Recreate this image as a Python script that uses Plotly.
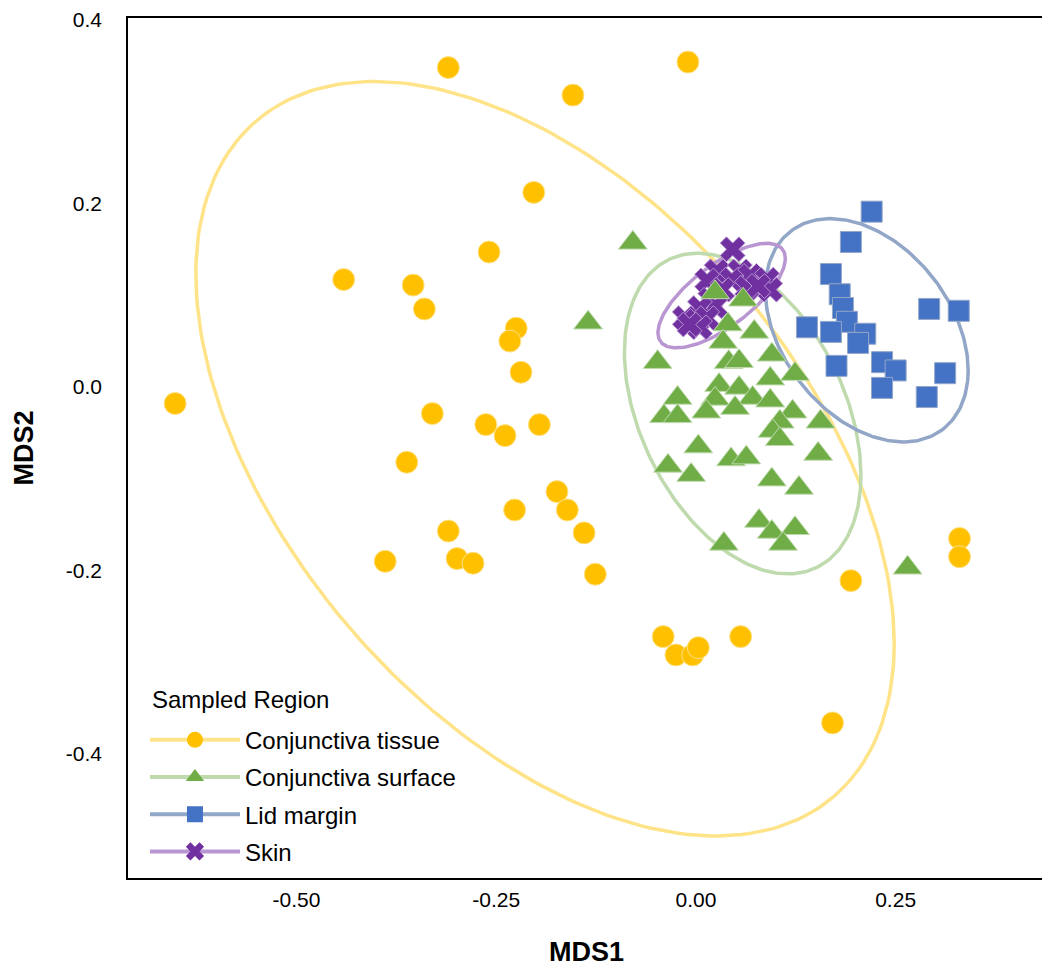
import numpy as np
import plotly.graph_objects as go

# MDS coordinates, one pair of lists per sampled region
tissue_x = [-0.652, -0.441, -0.354, -0.340, -0.310, -0.154, -0.010, -0.203, -0.259, -0.225,
            -0.233, -0.219, -0.330, -0.362, -0.263, -0.239, -0.196, -0.174, -0.161, -0.140,
            -0.126, -0.227, -0.310, -0.299, -0.279, -0.389, -0.041, -0.025, -0.004, 0.003,
            0.056, 0.194, 0.171, 0.330, 0.330]
tissue_y = [-0.018, 0.117, 0.111, 0.085, 0.348, 0.318, 0.354, 0.212, 0.147, 0.064,
            0.050, 0.016, -0.029, -0.082, -0.041, -0.053, -0.041, -0.114, -0.134, -0.159,
            -0.204, -0.134, -0.157, -0.187, -0.192, -0.190, -0.272, -0.292, -0.292, -0.284,
            -0.272, -0.211, -0.366, -0.165, -0.185]

surface_x = [-0.079, -0.135, 0.024, 0.059, 0.040, 0.073, 0.034, -0.048, 0.041, 0.054,
             0.095, 0.124, 0.093, 0.029, 0.054, 0.071, 0.093, 0.024, -0.023, -0.040,
             -0.023, 0.013, 0.049, 0.121, 0.105, 0.096, 0.105, 0.156, 0.003, 0.044,
             0.063, 0.153, -0.035, -0.006, 0.095, 0.129, 0.079, 0.124, 0.095, 0.109,
             0.035, 0.265]
surface_y = [0.157, 0.070, 0.103, 0.095, 0.068, 0.060, 0.049, 0.027, 0.027, 0.028,
             0.035, 0.014, 0.009, 0.002, -0.001, -0.012, -0.015, -0.013, -0.012, -0.032,
             -0.032, -0.027, -0.023, -0.027, -0.038, -0.048, -0.057, -0.038, -0.065, -0.079,
             -0.077, -0.073, -0.086, -0.096, -0.101, -0.110, -0.146, -0.154, -0.158, -0.171,
             -0.171, -0.197]

lid_x = [0.220, 0.194, 0.169, 0.180, 0.184, 0.189, 0.139, 0.169, 0.212, 0.203,
         0.292, 0.329, 0.176, 0.233, 0.250, 0.233, 0.312, 0.289]
lid_y = [0.191, 0.158, 0.123, 0.101, 0.086, 0.071, 0.065, 0.060, 0.058, 0.048,
         0.085, 0.083, 0.023, 0.027, 0.018, -0.001, 0.015, -0.011]

skin_x = [0.046, 0.026, 0.055, 0.014, 0.045, 0.068, 0.089, 0.093, 0.064, 0.033,
          0.018, 0.024, 0.005, -0.014, 0.001, 0.014, 0.005, -0.008, 0.078]
skin_y = [0.150, 0.126, 0.126, 0.116, 0.117, 0.121, 0.117, 0.106, 0.108, 0.106,
          0.095, 0.088, 0.086, 0.075, 0.072, 0.075, 0.065, 0.068, 0.110]

# F(0.95; 2, n-1) quantiles for the 95% t ellipses
f95 = {35: 3.276, 42: 3.226, 18: 3.592, 19: 3.555}

groups = [
    ("Conjunctiva tissue", tissue_x, tissue_y, "#FFC000", "#FFE389", "circle", 22),
    ("Conjunctiva surface", surface_x, surface_y, "#70AD47", "#BFDBAE", "triangle-up", 25),
    ("Lid margin", lid_x, lid_y, "#4472C4", "#92A6C8", "square", 21),
    ("Skin", skin_x, skin_y, "#7030A0", "#B996D2", "x", 22),
]


def cov_trob(pts, nu=5, tol=1e-4):
    # multivariate t robust location/scatter, as used for stat_ellipse
    n, p = pts.shape
    loc = pts.mean(axis=0)
    w = np.ones(n)
    for _ in range(200):
        w0 = w
        X = pts - loc
        u, d, vt = np.linalg.svd(np.sqrt(w / w.sum())[:, None] * X, full_matrices=False)
        wX = X @ vt.T / d
        Q = (wX ** 2).sum(axis=1)
        w = (nu + p) / (nu + Q)
        loc = (w[:, None] * pts).sum(axis=0) / w.sum()
        if np.all(np.abs(w - w0) < tol):
            break
    cov = (np.sqrt(w)[:, None] * X).T @ (np.sqrt(w)[:, None] * X) / n
    return loc, cov


def ellipse(x, y, m=240):
    pts = np.column_stack([x, y])
    loc, cov = cov_trob(pts)
    r = np.sqrt(2 * f95[len(x)])
    t = np.linspace(0, 2 * np.pi, m)
    circle = np.column_stack([np.cos(t), np.sin(t)])
    e = loc + r * circle @ np.linalg.cholesky(cov).T
    return e[:, 0], e[:, 1]


fig = go.Figure()

for name, x, y, col, light, sym, size in groups:
    ex, ey = ellipse(x, y)
    fig.add_trace(go.Scatter(x=ex, y=ey, mode="lines", line=dict(color=light, width=3.5),
                             showlegend=False, hoverinfo="skip"))

# point layers, skin before surface so triangles sit on top
for i in [0, 3, 1, 2]:
    name, x, y, col, light, sym, size = groups[i]
    fig.add_trace(go.Scatter(x=x, y=y, mode="markers", name=name, showlegend=False,
                             marker=dict(symbol=sym, size=size, color=col,
                                         line=dict(color=light, width=1))))

# legend entries with line + marker
for k, (name, x, y, col, light, sym, size) in enumerate(groups):
    fig.add_trace(go.Scatter(x=[None], y=[None], mode="lines+markers", name=name,
                             legendgroup=str(k),
                             line=dict(color=light, width=4),
                             marker=dict(symbol=sym, size=18, color=col)))

fig.add_annotation(text="Sampled Region", xref="paper", yref="paper",
                   x=0.024, y=0.207, xanchor="left", yanchor="middle",
                   showarrow=False, font=dict(size=24))

fig.update_layout(
    width=1050, height=980,
    margin=dict(l=120, r=13, t=10, b=110),
    plot_bgcolor="white", paper_bgcolor="white",
    font=dict(family="Liberation Sans, Arial", size=20, color="black"),
    legend=dict(x=0.0185, y=0.005, xanchor="left", yanchor="bottom",
                bgcolor="rgba(0,0,0,0)", font=dict(size=24), tracegroupgap=3,
                itemwidth=90),
)
fig.update_xaxes(range=[-0.711, 0.437], tickvals=[-0.5, -0.25, 0, 0.25],
                 ticktext=["-0.50", "-0.25", "0.00", "0.25"],
                 tickfont=dict(size=21), automargin=False,
                 showgrid=False, zeroline=False, showline=True, linecolor="black",
                 linewidth=1.5, mirror=True, ticks="", ticklabelstandoff=2,
                 title=dict(text="<b>MDS1</b>", standoff=32, font=dict(size=27)))
fig.update_yaxes(range=[-0.535, 0.402], tickvals=[-0.4, -0.2, 0, 0.2, 0.4],
                 ticktext=["-0.4", "-0.2", "0.0", "0.2", "0.4"],
                 tickfont=dict(size=21), automargin=False, ticklabeloverflow="allow",
                 showgrid=False, zeroline=False, showline=True, linecolor="black",
                 linewidth=1.5, mirror=True, ticks="", ticklabelstandoff=20,
                 title=dict(text="<b>MDS2</b>", standoff=24, font=dict(size=27)))

fig.write_html("out.html")
